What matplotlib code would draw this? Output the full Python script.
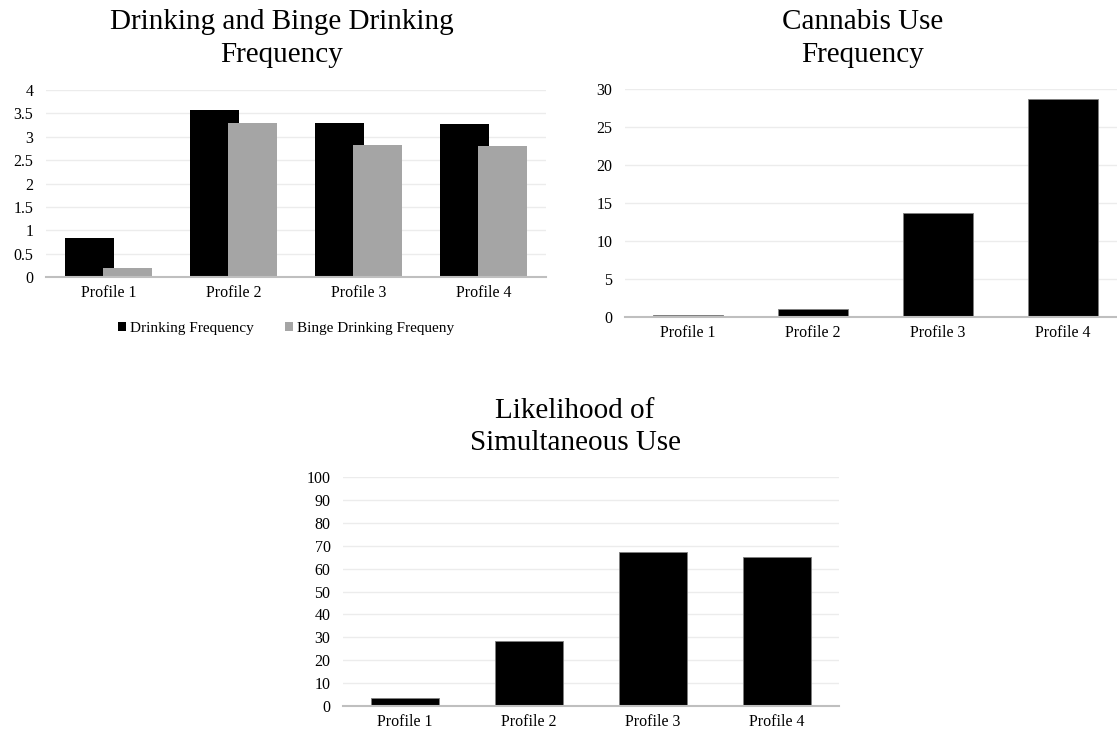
import matplotlib.pyplot as plt
import numpy as np

# dados
perfis = ["Profile 1", "Profile 2", "Profile 3", "Profile 4"]
beber = [0.83, 3.57, 3.29, 3.27]          # Drinking Frequency
beber_excesso = [0.19, 3.30, 2.83, 2.80]  # Binge Drinking Frequeny
cannabis = [0.3, 1.0, 13.7, 28.7]
simultaneo = [3.5, 28.3, 67.2, 64.9]

plt.rcParams['font.family'] = ['Liberation Serif', 'DejaVu Serif']

fig = plt.figure(figsize=(11.17, 7.31), dpi=100)
W, H = 1117, 731

def caixa(x0, y_topo, x1, y_base):
    # pixels -> fracao da figura
    return [x0 / W, 1 - y_base / H, (x1 - x0) / W, (y_base - y_topo) / H]

def estilo(ax, ymax, passo):
    ax.set_ylim(0, ymax)
    ax.set_yticks(np.arange(0, ymax + passo / 2, passo))
    ax.yaxis.set_major_formatter(plt.FuncFormatter(lambda v, p: f"{v:g}"))
    ax.grid(axis='y', color='#ececec', linewidth=1)
    ax.set_axisbelow(True)
    for s in ['top', 'right', 'left']:
        ax.spines[s].set_visible(False)
    ax.spines['bottom'].set_color('#bfbfbf')
    ax.spines['bottom'].set_linewidth(1.5)
    ax.tick_params(length=0, labelsize=11.5)
    ax.tick_params(axis='y', pad=9)
    ax.tick_params(axis='x', pad=6)
    ax.set_xlim(-0.5, len(perfis) - 0.5)
    ax.set_xticks(range(len(perfis)))
    ax.set_xticklabels(perfis)

def titulo(linhas, xc, bases):
    for txt, yb in zip(linhas, bases):
        fig.text(xc / W, 1 - yb / H, txt, ha='center', va='baseline', fontsize=21)

x = np.arange(len(perfis))

# grafico 1
ax1 = fig.add_axes(caixa(46, 90, 546, 277))
ax1.bar(x - 0.15, beber, width=0.39, color='black', label='Drinking Frequency')
ax1.bar(x + 0.15, beber_excesso, width=0.39, color='#a5a5a5', label='Binge Drinking Frequeny')
estilo(ax1, 4, 0.5)
titulo(["Drinking and Binge Drinking", "Frequency"], 282, [29, 62])
ax1.legend(loc='center', bbox_to_anchor=(0.48, -0.275), ncol=2, frameon=False,
           fontsize=11, handlelength=0.55, handleheight=0.55, handletextpad=0.25,
           columnspacing=2.0, borderpad=0)

# grafico 2
ax2 = fig.add_axes(caixa(625, 89, 1125, 317))
ax2.bar(x, cannabis, width=0.56, color='black', edgecolor='#7f7f7f', linewidth=0.6)
estilo(ax2, 30, 5)
titulo(["Cannabis Use", "Frequency"], 863, [29, 62])

# grafico 3
ax3 = fig.add_axes(caixa(343, 477, 839, 706))
ax3.bar(x, simultaneo, width=0.556, color='black', edgecolor='#7f7f7f', linewidth=0.6)
estilo(ax3, 100, 10)
titulo(["Likelihood of", "Simultaneous Use"], 575, [418, 450])

plt.savefig("out.png", dpi=100)
